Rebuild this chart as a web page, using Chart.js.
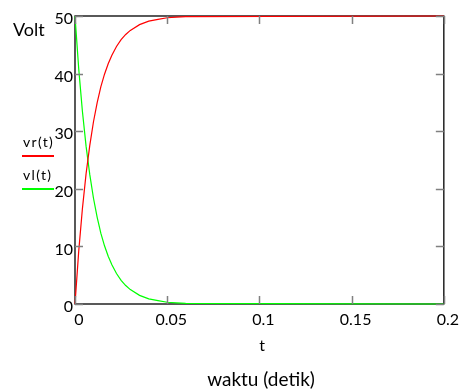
<!DOCTYPE html>
<html>
<head>
<meta charset="utf-8">
<script src="https://cdn.jsdelivr.net/npm/chart.js@4/dist/chart.umd.min.js"></script>
<style>
  html, body { margin: 0; padding: 0; background: #fff; }
  #wrap { position: relative; width: 461px; height: 390px; font-family: Lato, sans-serif; color: #000; }
  #plot { position: absolute; left: 0; top: 0; }
  .lbl { position: absolute; white-space: nowrap; line-height: 1; }
  .mid { transform: translateX(-50%); }
  .key { position: absolute; height: 1.5px; }
</style>
</head>
<body>
<div id="wrap">
  <canvas id="plot" width="461" height="390"></canvas>
  <div class="lbl" style="left:13px;top:20px;font-size:18px;">Volt</div>
  <div class="lbl" style="left:23px;top:135px;font-size:14px;letter-spacing:1.3px;">vr(t)</div>
  <div class="key" style="left:22px;top:155px;width:32px;background:#ff0000;"></div>
  <div class="lbl" style="left:23px;top:168px;font-size:14px;letter-spacing:1.3px;">vl(t)</div>
  <div class="key" style="left:22px;top:188px;width:32px;background:#00ff00;"></div>
  <div class="lbl mid" style="left:262px;top:337px;font-size:16px;">t</div>
  <div class="lbl mid" style="left:261px;top:369px;font-size:19px;">waktu (detik)</div>
</div>
<script>
// time samples (s) and voltages
const tValues  = [0, 0.002, 0.004, 0.006, 0.008, 0.010, 0.012, 0.014, 0.016, 0.018, 0.020,
                  0.0225, 0.025, 0.0275, 0.030, 0.035, 0.040, 0.045, 0.050, 0.055, 0.060, 0.2];
const vrValues = [0, 9.1, 16.5, 22.6, 27.5, 31.6, 34.9, 37.7, 39.9, 41.7, 43.2,
                  44.7, 45.9, 46.8, 47.5, 48.5, 49.1, 49.4, 49.7, 49.8, 49.9, 50];
const vlValues = [50, 40.9, 33.5, 27.4, 22.5, 18.4, 15.1, 12.3, 10.1, 8.3, 6.8,
                  5.3, 4.1, 3.2, 2.5, 1.5, 0.9, 0.6, 0.3, 0.2, 0.1, 0];
const xTicks = [0, 0.05, 0.1, 0.15, 0.2];
const yTicks = [0, 10, 20, 30, 40, 50];

const toPts = vals => tValues.map((t, i) => ({ x: t, y: vals[i] }));

const frame = {
  id: 'frame',
  beforeDatasetsDraw(chart) {
    const { ctx, chartArea: a } = chart;
    ctx.save();
    ctx.strokeStyle = '#000';
    ctx.lineWidth = 1.3;
    ctx.strokeRect(a.left, a.top, a.right - a.left, a.bottom - a.top);
    ctx.restore();
  },
  afterDatasetsDraw(chart) {
    const { ctx, chartArea: a, scales } = chart;
    ctx.save();
    ctx.strokeStyle = '#808080';
    ctx.lineWidth = 1.5;
    ctx.beginPath();
    xTicks.forEach(v => {
      const x = Math.round(scales.x.getPixelForValue(v)) + 0.5;
      ctx.moveTo(x, a.bottom); ctx.lineTo(x, a.bottom - 8);
      ctx.moveTo(x, a.top); ctx.lineTo(x, a.top + 8);
    });
    yTicks.forEach(v => {
      const y = Math.round(scales.y.getPixelForValue(v)) + 0.5;
      ctx.moveTo(a.left, y); ctx.lineTo(a.left + 8, y);
      ctx.moveTo(a.right, y); ctx.lineTo(a.right - 8, y);
    });
    ctx.stroke();
    ctx.restore();
  }
};

new Chart(document.getElementById('plot'), {
  type: 'scatter',
  data: {
    datasets: [
      { label: 'vr(t)', data: toPts(vrValues), showLine: true, borderColor: '#ff0000', borderWidth: 1.2, pointRadius: 0, tension: 0 },
      { label: 'vl(t)', data: toPts(vlValues), showLine: true, borderColor: '#00ff00', borderWidth: 1.2, pointRadius: 0, tension: 0 }
    ]
  },
  options: {
    responsive: false,
    animation: false,
    clip: false,
    layout: { padding: { left: 0, top: 16, right: 17, bottom: 0 } },
    plugins: { legend: { display: false }, tooltip: { enabled: false } },
    scales: {
      x: {
        type: 'linear', min: 0, max: 0.2,
        afterFit: s => { s.height = 86; },
        afterBuildTicks: s => { s.ticks = xTicks.map(v => ({ value: v })); },
        grid: { display: false, drawTicks: false },
        border: { display: false },
        ticks: { color: '#000', font: { family: 'Lato', size: 16 }, padding: 6, labelOffset: 4, maxRotation: 0,
                 callback: v => String(v) }
      },
      y: {
        min: 0, max: 50,
        afterFit: s => { s.width = 75; },
        afterBuildTicks: s => { s.ticks = yTicks.map(v => ({ value: v })); },
        grid: { display: false, drawTicks: false },
        border: { display: false },
        ticks: { color: '#000', font: { family: 'Lato', size: 16 }, padding: 2, labelOffset: 3 }
      }
    }
  },
  plugins: [frame]
});
</script>
</body>
</html>
